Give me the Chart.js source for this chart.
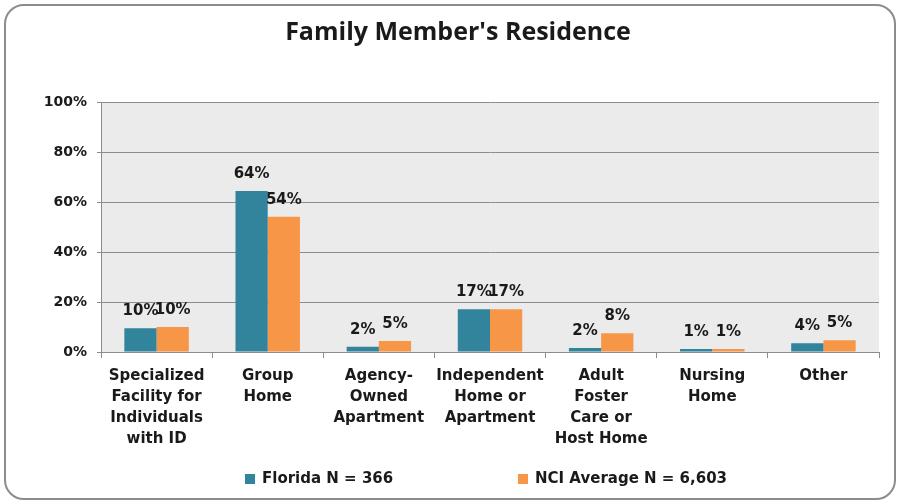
<!DOCTYPE html>
<html>
<head>
<meta charset="utf-8">
<script src="https://cdn.jsdelivr.net/npm/chart.js@4.4.1/dist/chart.umd.min.js"></script>
<style>
  html, body { margin: 0; padding: 0; background: #fff; }
  #wrap { position: relative; width: 901px; height: 502px; }
  #frame {
    position: absolute; left: 4px; top: 4px; width: 888px; height: 492px;
    border: 2px solid #8c8c8c; border-radius: 20px;
  }
  canvas { position: absolute; left: 0; top: 0; }
</style>
</head>
<body>
<div id="wrap">
  <div id="frame"></div>
  <canvas id="resChart" width="901" height="502"></canvas>
</div>
<script>
// categories (multi-line axis labels)
const categories = [
  ["Specialized", "Facility for", "Individuals", "with ID"],
  ["Group", "Home"],
  ["Agency-", "Owned", "Apartment"],
  ["Independent", "Home or", "Apartment"],
  ["Adult", "Foster", "Care or", "Host Home"],
  ["Nursing", "Home"],
  ["Other"]
];

// bar heights (%)
const floridaValues = [9.5, 64.4, 2.1, 17.1, 1.6, 1.2, 3.5];
const nciValues = [10.0, 54.1, 4.4, 17.1, 7.5, 1.2, 4.7];

// printed value labels
const floridaLabels = ["10%", "64%", "2%", "17%", "2%", "1%", "4%"];
const nciLabels = ["10%", "54%", "5%", "17%", "8%", "1%", "5%"];

const yTicks = [0, 20, 40, 60, 80, 100];

const seriesNames = ["Florida N = 366", "NCI Average N = 6,603"];
const seriesColors = ["#31849b", "#f79646"];

const FONT = "'DejaVu Sans', sans-serif";

// gray plot background
const plotBg = {
  id: 'plotBg',
  beforeDraw(chart) {
    const a = chart.chartArea;
    const ctx = chart.ctx;
    ctx.save();
    ctx.fillStyle = '#ebebeb';
    ctx.fillRect(a.left, a.top, a.right - a.left, a.bottom - a.top);
    ctx.restore();
  }
};

// value labels above bars
const valueLabels = {
  id: 'valueLabels',
  afterDatasetsDraw(chart) {
    const ctx = chart.ctx;
    const labelSets = [floridaLabels, nciLabels];
    ctx.save();
    ctx.font = "bold 15px " + FONT;
    ctx.fillStyle = '#1a1a1a';
    ctx.textAlign = 'center';
    ctx.textBaseline = 'middle';
    chart.data.datasets.forEach((ds, di) => {
      chart.getDatasetMeta(di).data.forEach((bar, i) => {
        ctx.fillText(labelSets[di][i], bar.x, bar.y - 17);
      });
    });
    ctx.restore();
  }
};

// legend drawn at the bottom, items spread apart
const bottomLegend = {
  id: 'bottomLegend',
  afterDraw(chart) {
    const ctx = chart.ctx;
    const xs = [245, 518];
    const y = 479;
    ctx.save();
    ctx.font = "bold 15px " + FONT;
    ctx.textBaseline = 'middle';
    ctx.textAlign = 'left';
    chart.data.datasets.forEach((ds, di) => {
      ctx.fillStyle = ds.backgroundColor;
      ctx.fillRect(xs[di], y - 5, 10, 10);
      ctx.fillStyle = '#1a1a1a';
      ctx.fillText(ds.label, xs[di] + 17, y);
    });
    ctx.restore();
  }
};

const ctx = document.getElementById('resChart').getContext('2d');
new Chart(ctx, {
  type: 'bar',
  data: {
    labels: categories,
    datasets: [
      {
        label: seriesNames[0],
        data: floridaValues,
        backgroundColor: seriesColors[0],
        categoryPercentage: 0.58,
        barPercentage: 1.0
      },
      {
        label: seriesNames[1],
        data: nciValues,
        backgroundColor: seriesColors[1],
        categoryPercentage: 0.58,
        barPercentage: 1.0
      }
    ]
  },
  options: {
    responsive: false,
    animation: false,
    layout: { padding: { left: 37, right: 22, top: 0, bottom: 0 } },
    plugins: {
      legend: { display: false },
      tooltip: { enabled: false },
      title: {
        display: true,
        text: "Family Member's Residence",
        color: '#1a1a1a',
        font: { family: "'Open Sans', sans-serif", size: 25, weight: 'bold' },
        padding: { top: 18, bottom: 54 }
      }
    },
    scales: {
      x: {
        grid: {
          offset: true,
          drawOnChartArea: false,
          color: '#8c8c8c',
          tickLength: 6
        },
        border: { color: '#8c8c8c' },
        ticks: {
          autoSkip: false,
          maxRotation: 0,
          padding: 8,
          color: '#1a1a1a',
          font: { family: FONT, size: 15, weight: 'bold', lineHeight: 1.4 }
        },
        afterFit(scale) { scale.height = 150; }
      },
      y: {
        min: 0,
        max: 100,
        afterBuildTicks(scale) {
          scale.ticks = yTicks.map(v => ({ value: v }));
        },
        grid: { color: '#8c8c8c', tickLength: 4 },
        border: { color: '#8c8c8c' },
        ticks: {
          padding: 10,
          color: '#1a1a1a',
          font: { family: FONT, size: 14, weight: 'bold' },
          callback: v => v + '%'
        },
        afterFit(scale) { scale.width = 64; }
      }
    }
  },
  plugins: [plotBg, valueLabels, bottomLegend]
});
</script>
</body>
</html>
